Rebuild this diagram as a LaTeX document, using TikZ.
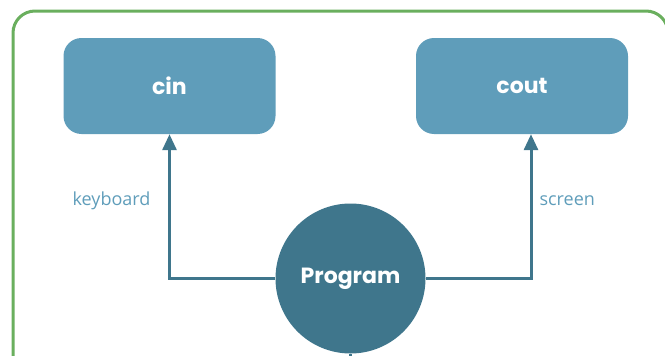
\documentclass[tikz,border=0pt]{standalone}
\usepackage{fontspec}
\setmainfont{Open Sans}
\newfontfamily\popfont{Poppins}
\usetikzlibrary{arrows.meta}
\definecolor{frameg}{HTML}{6AAF5E}
\definecolor{boxblue}{HTML}{5F9DBA}
\definecolor{darkteal}{HTML}{3F768C}
\definecolor{labelblue}{HTML}{5F9DBA}
\tikzset{
  iobox/.style={draw=none, fill=boxblue, rounded corners=18pt, minimum width=212pt, minimum height=96pt, text=white, font=\popfont\bfseries\fontsize{22}{24}\selectfont},
  prog/.style={circle, fill=darkteal, minimum size=150pt, inner sep=0pt, text=white, font=\popfont\bfseries\fontsize{22}{24}\selectfont},
  conn/.style={draw=darkteal, line width=3pt, -{Triangle[width=14pt,length=16pt]}},
  lbl/.style={text=labelblue, font=\fontsize{18}{20}\selectfont}
}
\begin{document}
\begin{tikzpicture}[x=1pt,y=-1pt]
\useasboundingbox (0,0) rectangle (665,356);
\clip (0,0) rectangle (665,356);
\draw[frameg, line width=3pt, rounded corners=22pt] (13,11) rectangle (668,400);
\node[iobox] (cin) at (169.5,86) {cin};
\node[iobox] (cout) at (522,86) {cout};
\node[prog] (program) at (350.5,278.5) {Program};
\coordinate (down) at (350.5,380);
\draw[conn] (program.west) -| (cin.south);
\draw[conn] (program.east) -| ([xshift=9pt]cout.south);
\draw[draw=darkteal, line width=3pt] (program.south) -- (down);
\node[lbl, anchor=east] (kb) at (154,201) {keyboard};
\node[lbl, anchor=west] (scr) at (536,201) {screen};
\end{tikzpicture}
\end{document}
